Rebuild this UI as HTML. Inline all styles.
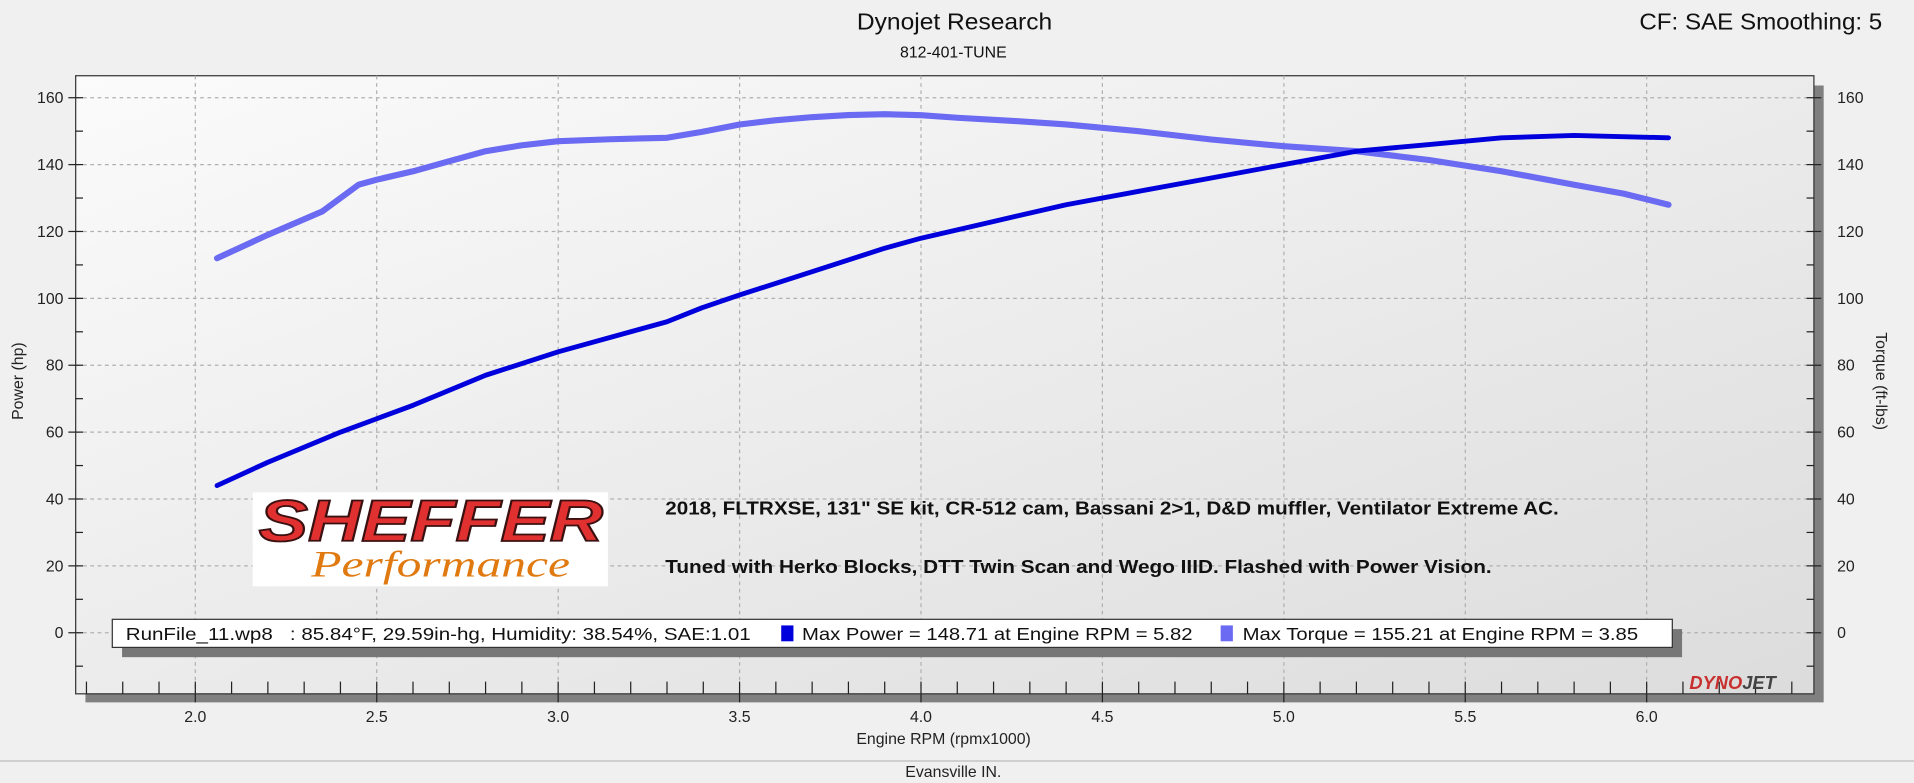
<!DOCTYPE html>
<html><head><meta charset="utf-8"><style>
html,body{margin:0;padding:0;background:#f0f0f0;}
svg{display:block;font-family:"Liberation Sans",sans-serif;}
</style></head><body>
<svg width="1914" height="783" viewBox="0 0 1568 641" preserveAspectRatio="none">
<defs>
<linearGradient id="bg" x1="0" y1="0" x2="1" y2="1">
<stop offset="0" stop-color="#fbfbfb"/><stop offset="1" stop-color="#dcdcdc"/>
</linearGradient>
</defs>
<rect width="1568" height="641" fill="#f0f0f0"/>
<text x="702" y="24" font-size="19" textLength="160" lengthAdjust="spacingAndGlyphs" fill="#111">Dynojet Research</text>
<text x="781" y="47" font-size="13" text-anchor="middle" fill="#111">812-401-TUNE</text>
<text x="1343" y="24" font-size="19" textLength="199" lengthAdjust="spacingAndGlyphs" fill="#111">CF: SAE Smoothing: 5</text>
<rect x="70" y="70" width="1424" height="505" fill="#808080"/>
<rect x="62" y="62" width="1424" height="506" fill="url(#bg)" stroke="#333" stroke-width="1"/>
<g stroke="#b0b0b0" stroke-dasharray="3,3" stroke-width="1">
<line x1="62" x2="1486" y1="80" y2="80"/><line x1="62" x2="1486" y1="134.75" y2="134.75"/>
<line x1="62" x2="1486" y1="189.5" y2="189.5"/><line x1="62" x2="1486" y1="244.25" y2="244.25"/>
<line x1="62" x2="1486" y1="299" y2="299"/><line x1="62" x2="1486" y1="353.75" y2="353.75"/>
<line x1="62" x2="1486" y1="408.5" y2="408.5"/><line x1="62" x2="1486" y1="463.25" y2="463.25"/>
<line x1="62" x2="1486" y1="518" y2="518"/>
<line y1="62" y2="568" x1="160" x2="160"/><line y1="62" y2="568" x1="308.6" x2="308.6"/>
<line y1="62" y2="568" x1="457.3" x2="457.3"/><line y1="62" y2="568" x1="605.9" x2="605.9"/>
<line y1="62" y2="568" x1="754.5" x2="754.5"/><line y1="62" y2="568" x1="903.1" x2="903.1"/>
<line y1="62" y2="568" x1="1051.8" x2="1051.8"/><line y1="62" y2="568" x1="1200.4" x2="1200.4"/>
<line y1="62" y2="568" x1="1349" x2="1349"/>
</g>
<g stroke="#222" stroke-width="1" id="ticks"></g>
<g font-size="13" fill="#222" id="labels"></g>
<text transform="translate(19,312) rotate(-90)" font-size="13" text-anchor="middle" fill="#222">Power (hp)</text>
<text transform="translate(1537,312) rotate(90)" font-size="13" text-anchor="middle" fill="#222">Torque (ft-lbs)</text>
<text x="773" y="609" font-size="13" text-anchor="middle" fill="#222">Engine RPM (rpmx1000)</text>
<text x="781" y="636" font-size="13" text-anchor="middle" fill="#222">Evansville IN.</text>
<line x1="0" x2="1568" y1="623" y2="623" stroke="#bbb"/>
<polyline fill="none" stroke="#6a6af2" stroke-width="5" stroke-linejoin="round" stroke-linecap="round" points="177.8,211.4 219.5,192.2 264,173.1 293.8,151.2 308.6,147.1 338.4,140.2 368.1,132 397.8,123.8 427,119 457.3,115.6 500,114 546.4,112.8 575,108 605.9,101.9 635,98.5 665.3,95.9 695,94.2 724.8,93.5 754.5,94.3 784.2,96.4 830,99 873.4,101.9 932.9,107.4 992.3,114.2 1051.8,119.7 1111.2,123.8 1170.7,131 1230.1,140.2 1289.6,151.2 1330,158.5 1366.9,167.6"/>
<polyline fill="none" stroke="#0000dc" stroke-width="4" stroke-linejoin="round" stroke-linecap="round" points="177.8,397.5 219.5,378.4 278.9,353.8 308.6,342.8 338.4,331.8 397.8,307.2 457.3,288 516.7,271.6 546.4,263.4 575,252 605.9,241.5 665.3,222.4 724.8,203.2 754.5,195 813.9,181.3 873.4,167.6 932.9,156.6 992.3,145.7 1051.8,134.7 1111.2,123.8 1170.7,118.3 1230.1,112.8 1289.6,110.9 1366.9,112.8"/>
<rect x="207" y="403" width="291" height="77" fill="#fff"/>
<text x="212" y="443" font-size="48" font-weight="bold" font-style="italic" textLength="282" lengthAdjust="spacingAndGlyphs" fill="#e03030" stroke="#3a1010" stroke-width="1.5">SHEFFER</text>
<text x="255" y="472" font-size="30" font-style="italic" font-family="Liberation Serif,serif" textLength="212" lengthAdjust="spacingAndGlyphs" fill="#e07a10">Performance</text>
<text x="545" y="421" font-size="15" font-weight="bold" textLength="732" lengthAdjust="spacingAndGlyphs" fill="#111">2018, FLTRXSE, 131" SE kit, CR-512 cam, Bassani 2&gt;1, D&amp;D muffler, Ventilator Extreme AC.</text>
<text x="545" y="469" font-size="15" font-weight="bold" textLength="677" lengthAdjust="spacingAndGlyphs" fill="#111">Tuned with Herko Blocks, DTT Twin Scan and Wego IIID. Flashed with Power Vision.</text>
<rect x="100" y="515" width="1278" height="23" fill="#777"/>
<rect x="92" y="507" width="1278" height="23" fill="#fff" stroke="#333"/>
<text x="103" y="524" font-size="14.5" fill="#111" textLength="512" lengthAdjust="spacingAndGlyphs" xml:space="preserve">RunFile_11.wp8   : 85.84°F, 29.59in-hg, Humidity: 38.54%, SAE:1.01</text>
<rect x="640" y="512" width="10" height="13" fill="#0000dc"/>
<text x="657" y="524" font-size="14.5" fill="#111" textLength="320" lengthAdjust="spacingAndGlyphs">Max Power = 148.71 at Engine RPM = 5.82</text>
<rect x="1000" y="512" width="10" height="13" fill="#6a6af2"/>
<text x="1018" y="524" font-size="14.5" fill="#111" textLength="324" lengthAdjust="spacingAndGlyphs">Max Torque = 155.21 at Engine RPM = 3.85</text>
<text x="1384" y="564" font-size="15" font-weight="bold" font-style="italic" fill="#c83030">DYNO<tspan fill="#444">JET</tspan></text>
<script>
var t=document.getElementById('ticks'),l=document.getElementById('labels'),ns='http://www.w3.org/2000/svg';
function ln(a,b,c,d,w){var e=document.createElementNS(ns,'line');e.setAttribute('x1',a);e.setAttribute('y1',b);e.setAttribute('x2',c);e.setAttribute('y2',d);if(w)e.setAttribute('stroke-width',w);t.appendChild(e);}
function tx(x,y,s,a){var e=document.createElementNS(ns,'text');e.setAttribute('x',x);e.setAttribute('y',y);e.setAttribute('text-anchor',a);e.textContent=s;l.appendChild(e);}
for(var v=-10;v<=160;v+=10){var y=518-v*2.7375;if(v%20==0){ln(56,y,68,y);ln(1480,y,1492,y);tx(52,y+4.5,v,'end');tx(1505,y+4.5,v,'start');}else{ln(62,y,68,y);ln(1480,y,1486,y);}}
for(var r=1.7;r<=6.45;r+=0.1){var x=160+(r-2)*297.25;var m=Math.abs(r*2-Math.round(r*2))<0.01;ln(x,558,x,m?575:568);if(m)tx(x,591,(Math.round(r*2)/2).toFixed(1),'middle');}
</script>
</svg>
</body></html>
